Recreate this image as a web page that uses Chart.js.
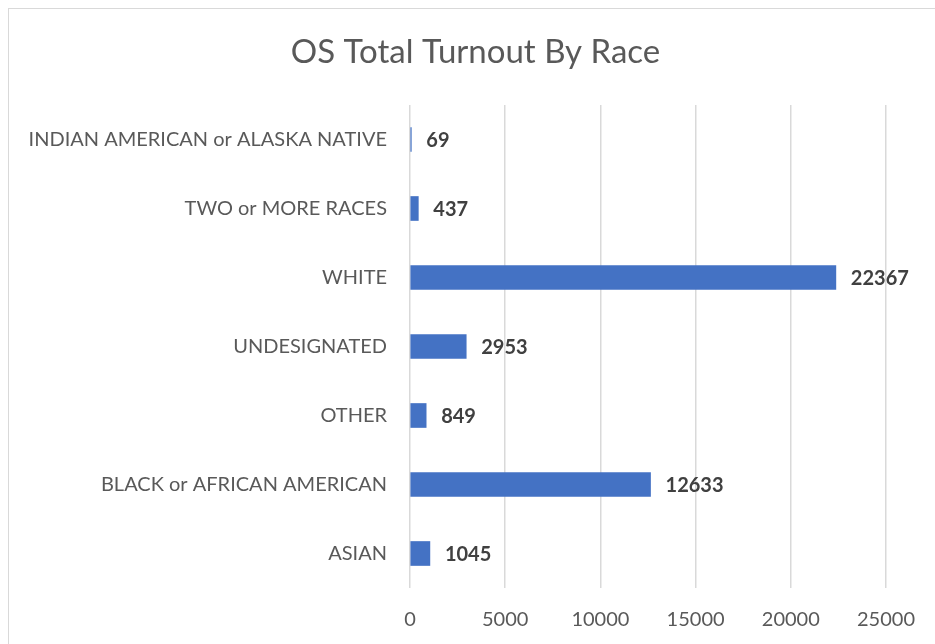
<!DOCTYPE html>
<html>
<head>
<meta charset="utf-8">
<script src="https://cdn.jsdelivr.net/npm/chart.js@4"></script>
<style>
    html, body { margin: 0; padding: 0; background: #fff; }
    #wrap { position: relative; width: 935px; height: 644px; overflow: hidden; }
    #frame { position: absolute; left: 8px; top: 8px; width: 960px; height: 680px; border: 1px solid #d9d9d9; }
    canvas { position: absolute; left: 0; top: 0; }
</style>
</head>
<body>
<div id="wrap">
    <div id="frame"></div>
    <canvas id="turnoutChart" width="935" height="644"></canvas>
</div>
<script>
const races = [
    'INDIAN AMERICAN or ALASKA NATIVE',
    'TWO or MORE RACES',
    'WHITE',
    'UNDESIGNATED',
    'OTHER',
    'BLACK or AFRICAN AMERICAN',
    'ASIAN'
];
const turnout = [69, 437, 22367, 2953, 849, 12633, 1045];
const xTicks = [0, 5000, 10000, 15000, 20000, 25000];
const chartTitle = 'OS Total Turnout By Race';

const FONT = 'Lato, "Open Sans", sans-serif';

// bold value next to the end of each bar
const valueLabels = {
    id: 'valueLabels',
    afterDatasetsDraw(chart) {
        const ctx = chart.ctx;
        const meta = chart.getDatasetMeta(0);
        ctx.save();
        ctx.font = 'bold 20px ' + FONT;
        ctx.fillStyle = '#404040';
        ctx.textAlign = 'left';
        ctx.textBaseline = 'middle';
        meta.data.forEach((bar, i) => {
            ctx.fillText(String(turnout[i]), bar.x + 15, bar.y + 1);
        });
        ctx.restore();
    }
};

// title centred on the frame, not on the plot box
const frameTitle = {
    id: 'frameTitle',
    afterDraw(chart) {
        const ctx = chart.ctx;
        ctx.save();
        ctx.font = '33px ' + FONT;
        ctx.fillStyle = '#595959';
        ctx.textAlign = 'center';
        ctx.textBaseline = 'middle';
        ctx.fillText(chartTitle, chart.width / 2 + 8, 52);
        ctx.restore();
    }
};

const ctx = document.getElementById('turnoutChart').getContext('2d');
window.myChart = new Chart(ctx, {
    type: 'bar',
    data: {
        labels: races,
        datasets: [{
            data: turnout,
            backgroundColor: '#4472C4',
            borderWidth: 0,
            barThickness: 24
        }]
    },
    options: {
        indexAxis: 'y',
        responsive: false,
        animation: false,
        layout: { padding: { left: 0, right: 47, top: 105, bottom: 0 } },
        scales: {
            x: {
                min: 0,
                max: 25000,
                afterBuildTicks: (scale) => { scale.ticks = xTicks.map(v => ({ value: v })); },
                afterFit: (scale) => { scale.height = 56; },
                grid: { color: '#d9d9d9', lineWidth: 1.5, drawTicks: false },
                border: { display: false },
                ticks: {
                    color: '#595959', padding: 20, font: { family: FONT, size: 20 },
                    callback: (v) => String(v)
                }
            },
            y: {
                grid: { display: false, drawTicks: false },
                border: { display: false },
                afterFit: (scale) => { scale.width = 410; },
                ticks: { color: '#595959', padding: 23, font: { family: FONT, size: 20 } }
            }
        },
        plugins: {
            legend: { display: false },
            tooltip: { enabled: false },
            title: { display: false }
        }
    },
    plugins: [valueLabels, frameTitle]
});
</script>
</body>
</html>
